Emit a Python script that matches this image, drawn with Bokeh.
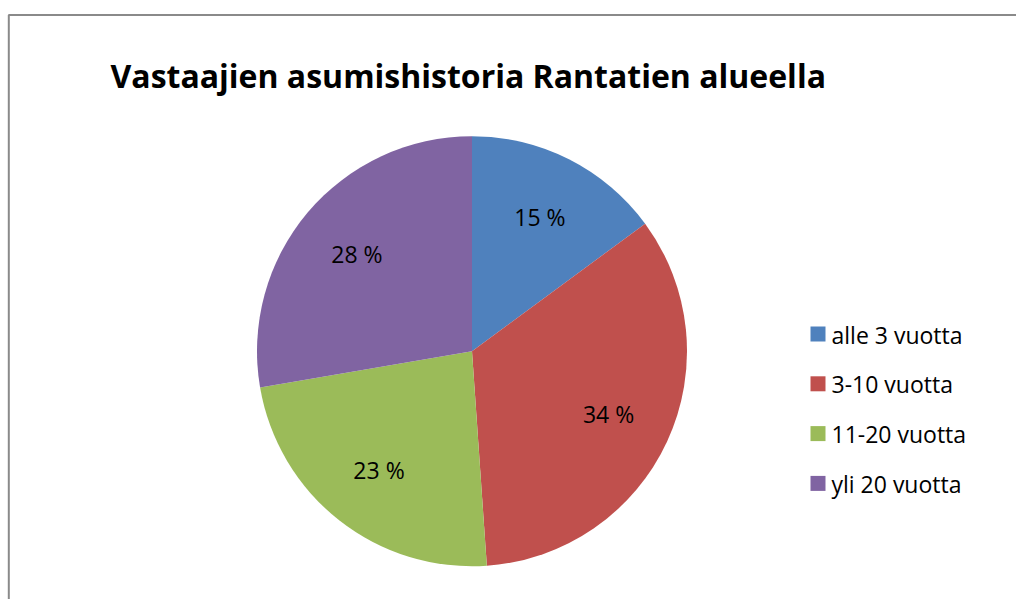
import numpy as np
from bokeh.plotting import figure
from bokeh.models import Range1d, ColumnDataSource
from bokeh.core.properties import value
from bokeh.embed import file_html
from bokeh.resources import INLINE

# ---- data ----
title = "Vastaajien asumishistoria Rantatien alueella"
categories = ["alle 3 vuotta", "3-10 vuotta", "11-20 vuotta", "yli 20 vuotta"]
shares = [14.9, 34.0, 23.4, 27.7]
colors = ["#4F81BD", "#C0504D", "#9BBB59", "#8064A2"]

W, H = 1016, 599
PAGE_H = 601


def Y(ys):
    # screen y (from top of picture) -> data y
    return PAGE_H - ys


p = figure(width=W, height=H, output_backend="svg", toolbar_location=None,
           x_range=Range1d(0, W), y_range=Range1d(PAGE_H - H, PAGE_H),
           min_border=0, outline_line_color=None)
p.axis.visible = False
p.grid.visible = False
p.background_fill_color = "white"

# chart-area border (top and left edges visible)
p.line(x=[8.3, 8.3, 1020], y=[Y(610), Y(14.5), Y(14.5)], line_color="#8a8a8a", line_width=2)

# title
p.text(x=[110], y=[Y(75)], text=[title], text_font=value("Open Sans"), text_font_style="bold",
       text_font_size="32px", text_color="#000000", text_baseline="middle", text_align="left")

# pie
cx, cy, r = 471.5, Y(350.7), 215.0
vals = np.array(shares, dtype=float)
frac = vals / vals.sum()
cum = np.concatenate([[0.0], np.cumsum(frac)])
start = np.pi / 2 - cum[:-1] * 2 * np.pi
end = np.pi / 2 - cum[1:] * 2 * np.pi
src = ColumnDataSource(dict(start=start, end=end, color=colors))
p.wedge(x=cx, y=cy, radius=r, start_angle="start", end_angle="end", direction="clock",
        fill_color="color", line_color=None, source=src)

# percentage labels
mid = (start + end) / 2
lx = cx + 0.70 * r * np.cos(mid)
ly = cy + 0.70 * r * np.sin(mid)
labels = [f"{round(v):.0f} %" for v in vals]
p.text(x=lx, y=ly, text=labels, text_font=value("Open Sans"), text_font_size="23px",
       text_color="#000000", text_align="center", text_baseline="middle")

# legend
ly0, dy = 333.5, 49.8
rows = np.arange(len(categories))
sq_y = [Y(ly0 + i * dy) for i in rows]
p.rect(x=[817.5] * len(rows), y=sq_y, width=15, height=15, fill_color=colors, line_color=None)
p.text(x=[831] * len(rows), y=[Y(ly0 + 0.5 + i * dy) for i in rows], text=categories,
       text_font=value("Open Sans"), text_font_size="23px", text_color="#000000",
       text_align="left", text_baseline="middle")

open("out.html", "w").write(file_html(p, INLINE))
